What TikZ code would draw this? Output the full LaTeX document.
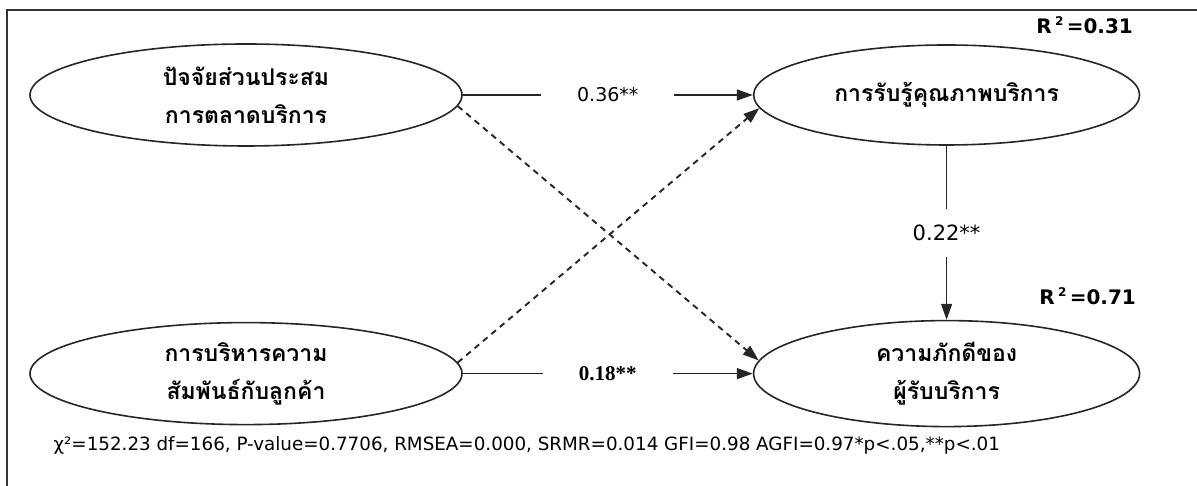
\documentclass[tikz,border=0pt]{standalone}
\usepackage{fontspec}
\setmainfont{DejaVu Sans}
\newfontfamily\thaifont[Script=Thai]{Loma}
\newfontfamily\serifnum{Liberation Serif}
\usetikzlibrary{arrows.meta, positioning, shapes.geometric}

\begin{document}
\begin{tikzpicture}[
    x=1pt, y=1pt,
    node distance=290pt,
    latent/.style={draw=black!85, ellipse, line width=1.6pt, minimum width=432pt, minimum height=102pt, align=center, font=\thaifont\bfseries\fontsize{23}{38}\selectfont},
    arr/.style={-{Triangle[length=16pt, width=11pt]}, line width=1.4pt, draw=black!85},
    darr/.style={arr, dash pattern=on 6pt off 5pt, line width=1.9pt},
    coef/.style={midway, fill=white, font=\fontsize{19}{20}\selectfont},
    rsq/.style={font=\bfseries\fontsize{20}{22}\selectfont},
]
\useasboundingbox (0,0) rectangle (1197,486);

% ---- Frame ----
\draw[line width=1.8pt, black!80] (7,0) -- (7,476) -- (1197,476);

% ---- Latent variables ----
\node[latent] (mix) at (246,391) {ปัจจัยส่วนประสม\\การตลาดบริการ};
\node[latent, minimum width=386pt, minimum height=100pt, right=290pt of mix] (qual) {การรับรู้คุณภาพบริการ};
\node[latent, below=175pt of mix] (crm) {การบริหารความ\\สัมพันธ์กับลูกค้า};
\node[latent, minimum width=386pt, minimum height=106pt, right=290pt of crm] (loyal) {ความภักดีของ\\ผู้รับบริการ};

% ---- R squared ----
\node[rsq] at ([xshift=138pt, yshift=19pt]qual.north) {R\,\raisebox{8pt}{\fontsize{12}{12}\selectfont 2}\,=0.31};
\node[rsq] at ([xshift=141pt, yshift=24pt]loyal.north) {R\,\raisebox{8pt}{\fontsize{12}{12}\selectfont 2}\,=0.71};

% ---- Paths ----
\draw[arr] (mix.east) -- node[coef, inner xsep=36pt] {0.36**} (qual.west);
\draw[arr] (crm.east) -- node[coef, inner xsep=36pt, font=\serifnum\bfseries\fontsize{21}{22}\selectfont] {0.18**} (loyal.west);
\draw[arr] (qual.south) -- node[coef, inner ysep=16pt, font=\fontsize{21}{22}\selectfont] {0.22**} (loyal.north);
\draw[darr] (mix.-3) -- (loyal.176);
\draw[darr] (crm.3) -- (qual.184);

% ---- Fit indices ----
\node[anchor=west, font=\fontsize{18.3}{20}\selectfont] (fitidx) at (50,41) {χ²=152.23 df=166, P-value=0.7706, RMSEA=0.000, SRMR=0.014 GFI=0.98 AGFI=0.97*p<.05,**p<.01};

\end{tikzpicture}
\end{document}
